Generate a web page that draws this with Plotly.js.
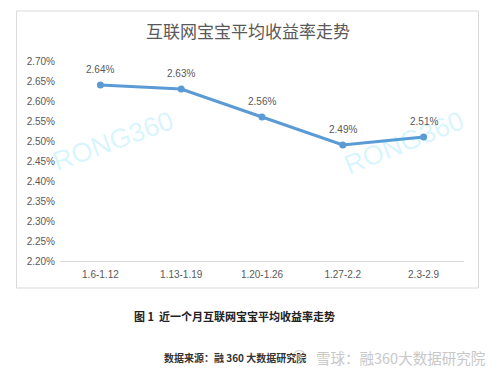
<!DOCTYPE html>
<html>
<head>
<meta charset="utf-8">
<script src="https://cdn.plot.ly/plotly-3.0.1.min.js"></script>
<style>html,body{margin:0;padding:0;background:#fff;}#chart{width:500px;height:375px;}</style>
</head>
<body>
<div id="chart"></div>
<script>
var categories = ["1.6-1.12", "1.13-1.19", "1.20-1.26", "1.27-2.2", "2.3-2.9"];
var yieldValues = [2.64, 2.63, 2.56, 2.49, 2.51];
var valueLabels = ["2.64%", "2.63%", "2.56%", "2.49%", "2.51%"];
var chartTitle = "互联网宝宝平均收益率走势";
var captionText = "图 1  近一个月互联网宝宝平均收益率走势";
var sourceText = "数据来源：融 360 大数据研究院";
var bottomMark = "雪球：融360大数据研究院";
var watermark = "RONG360";

var W = 500, H = 375, L = 59.5, R = 464.5, T = 61, B = 261;
function px(x){ return (x - L) / (R - L); }
function py(y){ return (B - y) / (B - T); }

var trace = {
  x: categories,
  y: yieldValues,
  type: "scatter",
  mode: "lines+markers",
  line: {color: "#5b9bd5", width: 3},
  marker: {color: "#5b9bd5", size: 7},
  cliponaxis: false,
  hoverinfo: "skip"
};

var cjk = "Noto Sans CJK SC, sans-serif";
var lat = "Liberation Sans, Arial, sans-serif";

function note(text, x, y, font, extra){
  var a = {text: text, xref: "paper", yref: "paper", x: x, y: y, xanchor: "center", yanchor: "middle",
           showarrow: false, font: font, borderpad: 0};
  if (extra) for (var k in extra) a[k] = extra[k];
  return a;
}

var annotations = [
  note(watermark, px(113), py(141), {family: lat, size: 27, color: "rgba(0,195,245,0.17)"}, {textangle: -20}),
  note(watermark, px(404), py(143), {family: lat, size: 27, color: "rgba(0,195,245,0.17)"}, {textangle: -22}),
  note("<b>" + captionText + "</b>", px(234), py(316), {family: cjk, size: 11, color: "#222222"}),
  note("<b>" + sourceText + "</b>", px(235), py(357), {family: cjk, size: 10, color: "#333333"}),
  note(bottomMark, px(401), py(357), {family: cjk, size: 14.5, color: "#c8c8c8"}),
  note("雪", px(299.5), py(357), {family: cjk, size: 7, color: "#c0c0c0"})
];
for (var i = 0; i < categories.length; i++) {
  annotations.push({
    text: valueLabels[i], xref: "x", yref: "y", x: categories[i], y: yieldValues[i],
    xanchor: "center", yanchor: "middle", yshift: 16, showarrow: false,
    font: {family: lat, size: 10, color: "#595959"}
  });
}

var layout = {
  width: W, height: H,
  margin: {l: L, r: W - R, t: T, b: H - B, pad: 0},
  paper_bgcolor: "#ffffff",
  plot_bgcolor: "#ffffff",
  showlegend: false,
  title: {text: chartTitle, font: {family: cjk, size: 17, color: "#595959"}, x: 0.496, xanchor: "center", y: 1 - 32/H, yanchor: "middle"},
  xaxis: {
    type: "category",
    range: [-0.5, 4.5],
    showgrid: false, zeroline: false,
    showline: true, linecolor: "#d9d9d9", linewidth: 1,
    ticks: "", ticklabelstandoff: 4,
    tickfont: {family: lat, size: 10, color: "#595959"},
    fixedrange: true
  },
  yaxis: {
    range: [2.2, 2.7],
    dtick: 0.05, tick0: 2.2,
    tickformat: ".2f", ticksuffix: "%",
    showgrid: false, zeroline: false, showline: false,
    ticks: "", ticklabelstandoff: 4,
    tickfont: {family: lat, size: 10, color: "#595959"},
    fixedrange: true
  },
  shapes: [
    {type: "rect", xref: "paper", yref: "paper", x0: px(16), x1: px(479), y0: py(288), y1: py(11),
     line: {color: "#d9d9d9", width: 1}, fillcolor: "rgba(0,0,0,0)", layer: "below"},
    {type: "circle", xref: "paper", yref: "paper", x0: px(293), x1: px(306), y0: py(363.5), y1: py(350.5),
     line: {color: "#c8c8c8", width: 1}, fillcolor: "rgba(0,0,0,0)"}
  ],
  annotations: annotations
};

Plotly.newPlot("chart", [trace], layout, {staticPlot: true, displayModeBar: false});
</script>
</body>
</html>
